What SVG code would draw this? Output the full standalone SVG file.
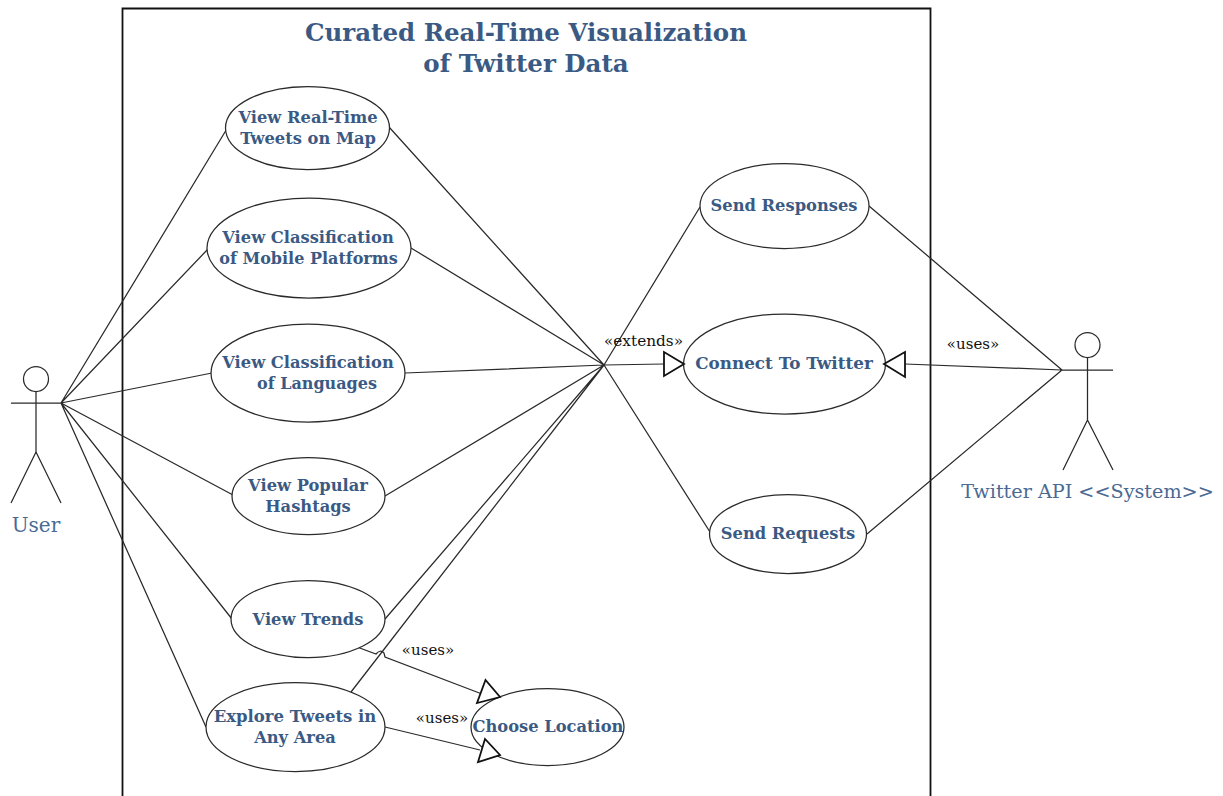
<svg xmlns="http://www.w3.org/2000/svg" width="1223" height="796" viewBox="0 0 1223 796">
<style>
.s{fill:none;stroke:#2a2a2a;stroke-width:1.25}
.e{fill:#fff;stroke:#2a2a2a;stroke-width:1.25}
.h{fill:#fff;stroke:#111;stroke-width:1.8}
text{font-family:"DejaVu Serif",serif}
.t{font-size:24.5px;font-weight:bold;fill:#3a5a84;text-anchor:middle}
.n{font-size:16.3px;font-weight:bold;fill:#3a5a84;text-anchor:middle}
.a{font-size:20px;fill:#4a6a94;text-anchor:middle}
.l{font-size:15px;fill:#111;text-anchor:middle}
</style>
<rect width="1223" height="796" fill="#fff"/>
<path id="frame" d="M122.500 796V8.500H930.500V796" fill="none" stroke="#111" stroke-width="1.8"/>
<g id="title"><text class="t" x="526" y="40.500">Curated Real-Time Visualization</text><text class="t" x="526" y="71.500">of Twitter Data</text></g>
<g id="connectors" class="s">
<path d="M61 403L228 127M61 403L208 249M61 403L212 373M61 403L233 495M61 403L232 619M61 403L206 727"/>
<path d="M389 127L604 365M411 248L604 365M405 373L604 365M385 496L604 365M385 619L604 365M351 692L604 365"/>
<path d="M700 207L604 365M710 532L604 365M604 365L664 364"/>
<path d="M869 206L1062 370M867 534L1062 370M1062 370L905 364"/>
<path d="M357 647L376 654Q380 649 384 653L385 657L482 694M385 727L480 750"/>
</g>
<g id="user" class="s"><circle cx="36" cy="379" r="12.500"/><path d="M36 391V452M11 403H61M36 452L11 503M36 452L61 503"/><text class="a" x="36" y="531.500" style="stroke:none">User</text></g>
<g id="twitter-api" class="s"><circle cx="1087.500" cy="345" r="12.500"/><path d="M1087.500 358V420M1062 370H1113M1087.500 420L1063 470M1087.500 420L1113 470"/><text class="a" x="1087.500" y="498" style="stroke:none;font-size:19.200px">Twitter API &lt;&lt;System&gt;&gt;</text></g>
<g id="uc1"><ellipse class="e" cx="307.500" cy="128" rx="82" ry="41.500"/><text class="n" x="308" y="122.500">View Real-Time</text><text class="n" x="308" y="143.500">Tweets on Map</text></g>
<g id="uc2"><ellipse class="e" cx="309" cy="248" rx="102" ry="50"/><text class="n" x="308" y="242.500">View Classification</text><text class="n" x="308.500" y="263.500" style="font-size:16px">of Mobile Platforms</text></g>
<g id="uc3"><ellipse class="e" cx="308" cy="373" rx="97" ry="49"/><text class="n" x="308" y="367.500">View Classification</text><text class="n" x="317" y="388.500" style="font-size:16px">of Languages</text></g>
<g id="uc4"><ellipse class="e" cx="308.500" cy="496" rx="76.500" ry="38.500"/><text class="n" x="308" y="490.500">View Popular</text><text class="n" x="308" y="511.500">Hashtags</text></g>
<g id="uc5"><ellipse class="e" cx="308" cy="619" rx="77" ry="38.500"/><text class="n" x="308" y="624.500">View Trends</text></g>
<g id="uc6"><ellipse class="e" cx="295.500" cy="727" rx="89.500" ry="44.500"/><text class="n" x="295" y="721.500" style="font-size:16.500px">Explore Tweets in</text><text class="n" x="295" y="742.500">Any Area</text></g>
<g id="uc7"><ellipse class="e" cx="547.500" cy="727" rx="76.500" ry="38.500"/><text class="n" x="548" y="731.500">Choose Location</text></g>
<g id="uc8"><ellipse class="e" cx="784.500" cy="206" rx="84.500" ry="42.500"/><text class="n" x="784" y="211">Send Responses</text></g>
<g id="uc9"><ellipse class="e" cx="784.500" cy="364" rx="101" ry="50"/><text class="n" x="784" y="369" style="font-size:16.800px">Connect To Twitter</text></g>
<g id="uc10"><ellipse class="e" cx="788" cy="534" rx="78.500" ry="39.500"/><text class="n" x="788" y="538.500">Send Requests</text></g>
<g id="arrowheads" class="h">
<path d="M664 352V376L684 364Z"/>
<path d="M905 352V377L884 364Z"/>
<path d="M485.500 680L477 703L500 697Z"/>
<path d="M485 739L478 762L500 755Z"/>
</g>
<g id="labels"><text class="l" x="643.500" y="345.500" style="font-size:15.300px">«extends»</text><text class="l" x="973" y="348.500">«uses»</text><text class="l" x="428" y="654.500">«uses»</text><text class="l" x="442" y="722.500">«uses»</text></g>
</svg>
